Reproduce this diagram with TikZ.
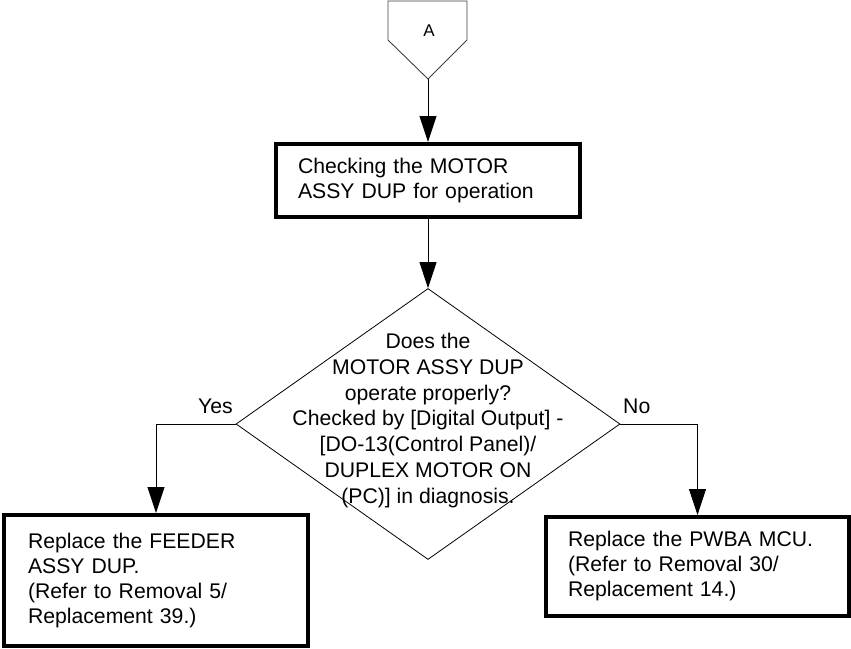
\documentclass[tikz,border=0pt]{standalone}
\usepackage{fontspec}
\setmainfont{Liberation Sans}
\usetikzlibrary{shapes.geometric,arrows.meta}
\begin{document}
\begin{tikzpicture}[x=1pt,y=-1pt,
  txt/.style={font=\fontsize{21.2}{25}\selectfont, inner sep=0pt},
  box/.style={txt, draw=black, line width=4pt, rectangle, align=left, inner ysep=0pt},
  dec/.style={draw=black, line width=0.8pt, diamond, inner sep=0pt},
  conn/.style={draw=black!75, line width=0.9pt},
  arr/.style={line width=0.9pt, -{Triangle[width=17pt,length=26pt]}},
  lbl/.style={txt, anchor=base west}
]
\useasboundingbox (0,0) rectangle (851,648);

% off-page connector A
\draw[conn] (388,1) -- (467,1) -- (467,40) -- (428,79) -- (388,40) -- cycle;
\coordinate (Atip) at (428,79);
\node[txt, font=\fontsize{17}{20}\selectfont] (A) at (429,31) {A};

% process box
\node[box, font=\fontsize{21.2}{24.4}\selectfont, minimum width=304pt, minimum height=73pt, text width=260pt, inner xsep=22pt] (b1) at (428,180.5)
  {Checking the MOTOR\\ASSY DUP for operation};

% decision
\node[dec, minimum width=384pt, minimum height=271pt] (d) at (428,424) {};
\node[txt, font=\fontsize{21.2}{25.7}\selectfont, align=center] (dt) at (428,420.5)
  {Does the\\MOTOR ASSY DUP\\operate properly?\\Checked by [Digital Output] -\\{}[DO-13(Control Panel)/\\DUPLEX MOTOR ON\\(PC)] in diagnosis.};

% result boxes
\node[box, minimum width=304pt, minimum height=131pt, text width=256pt, inner xsep=24pt] (b2) at (156,580.5)
  {Replace the FEEDER\\ASSY DUP.\\(Refer to Removal 5/\\Replacement 39.)};
\node[box, minimum width=303pt, minimum height=99pt, text width=259pt, inner xsep=22pt] (b3) at (697.5,566.5)
  {Replace the PWBA MCU.\\(Refer to Removal 30/\\Replacement 14.)};

% connectors
\draw[arr] (Atip) -- (b1.north);
\draw[arr] (b1.south) -- (d.north);
\draw[arr] (d.west) -| (b2.north);
\draw[arr] (d.east) -| (b3.north);

% labels
\node[lbl] (yes) at (198,413) {Yes};
\node[lbl] (no) at (623,413) {No};
\end{tikzpicture}
\end{document}
